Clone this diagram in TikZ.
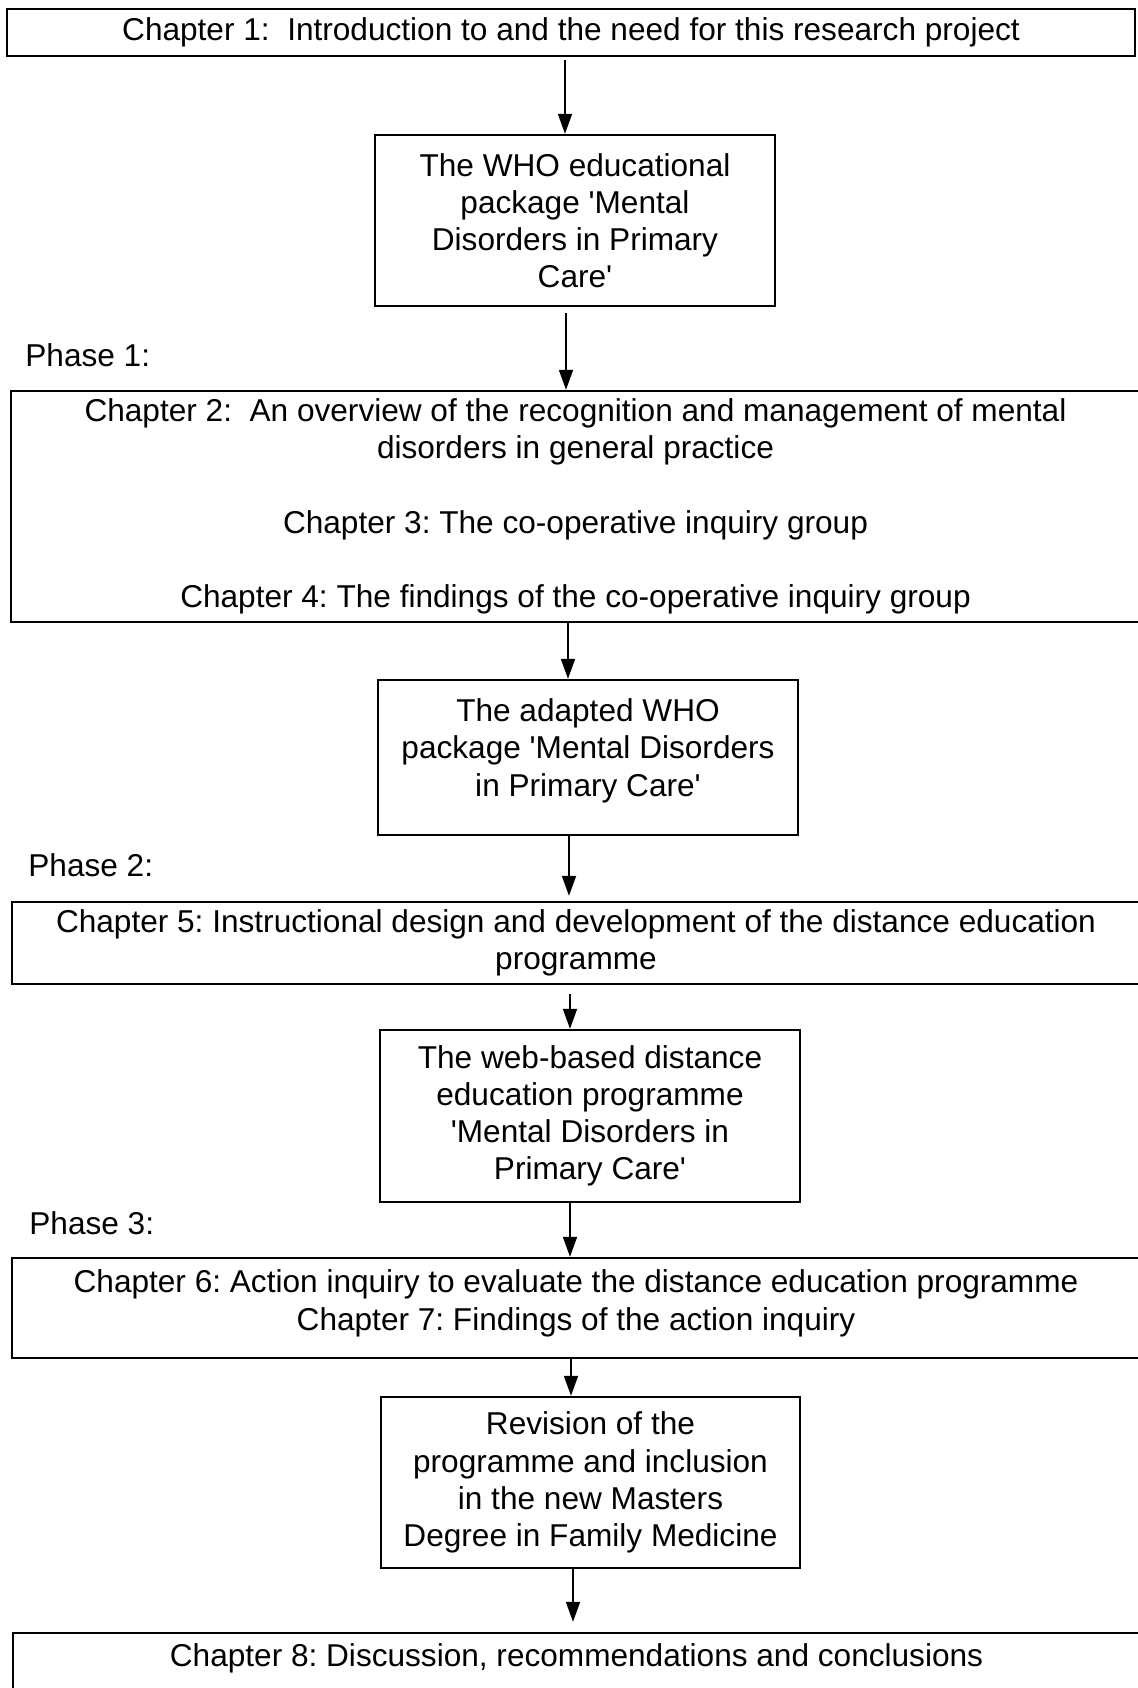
\documentclass[tikz,border=0pt]{standalone}
\usepackage{fontspec}
\setmainfont{Liberation Sans}
\usetikzlibrary{arrows.meta}
\frenchspacing

\begin{document}
\begin{tikzpicture}[x=0.5pt,y=-0.5pt,
        font=\fontsize{15.8}{18.6}\selectfont,
        chapbox/.style={draw,line width=1.2pt,align=center,inner sep=0pt},
        flow/.style={line width=0.9pt,-{Triangle[length=10pt,width=7pt]}},
        phase/.style={anchor=west,inner sep=0pt}]
        \useasboundingbox (0,0) rectangle (1138,1688);
        \clip (0,0) rectangle (1138,1688);
        % Chapters and products
        \node[chapbox,minimum width=564pt,minimum height=23.5pt] (ch1) at (571,32.5)
            {Chapter 1:~ Introduction to and the need for this research project};
        \node[chapbox,minimum width=200pt,minimum height=85.5pt] (who) at (575,220.5)
            {The WHO educational\\package \textquotesingle Mental\\Disorders in Primary\\Care\textquotesingle};
        \node[chapbox,minimum width=564.5pt,minimum height=115.5pt] (chtwo) at (575.5,506.5)
            {Chapter 2:~ An overview of the recognition and management of mental\\disorders in general practice\\[18.6pt]Chapter 3: The co-operative inquiry group\\[18.6pt]Chapter 4: The findings of the co-operative inquiry group};
        \node[chapbox,minimum width=210pt,minimum height=77.5pt] (adapted) at (588,757.5)
            {The adapted WHO\\package \textquotesingle Mental Disorders\\in Primary Care\textquotesingle\\[-8.6pt]~};
        \node[chapbox,minimum width=564pt,minimum height=41pt] (chfive) at (576,943)
            {Chapter 5: Instructional design and development of the distance education\\programme};
        \node[chapbox,minimum width=210pt,minimum height=86pt] (web) at (590,1116)
            {The web-based distance\\education programme\\\textquotesingle Mental Disorders in\\Primary Care\textquotesingle};
        \node[chapbox,minimum width=564pt,minimum height=50pt] (chsix) at (576,1308)
            {Chapter 6: Action inquiry to evaluate the distance education programme\\Chapter 7: Findings of the action inquiry\\[-10.6pt]~};
        \node[chapbox,minimum width=209.5pt,minimum height=85.5pt] (revision) at (590.5,1482.5)
            {Revision of the\\programme and inclusion\\in the new Masters\\Degree in Family Medicine};
        \node[chapbox,minimum width=563.5pt,minimum height=33.5pt] (chend) at (576.5,1666.5)
            {Chapter 8: Discussion, recommendations and conclusions\\[-7.1pt]~};
        % Phases
        \node[phase] (ph1) at (25,355) {Phase 1:};
        \node[phase] (ph2) at (28,865) {Phase 2:};
        \node[phase] (ph3) at (29,1223) {Phase 3:};
        % Flow
        \foreach \a/\b/\x/\s/\e in {ch1/who/565/1.5/0,who/chtwo/566/3/0,chtwo/adapted/568/0/0,adapted/chfive/569/0/2.5,chfive/web/570/4.5/0,web/chsix/570/0/0,chsix/revision/571/0/0,revision/chend/573/0/5}
        {
            \draw[flow,shorten <=\s pt,shorten >=\e pt] (\a.south -| \x,0) -- (\b.north -| \x,0);
        }
    \end{tikzpicture}
\end{document}
